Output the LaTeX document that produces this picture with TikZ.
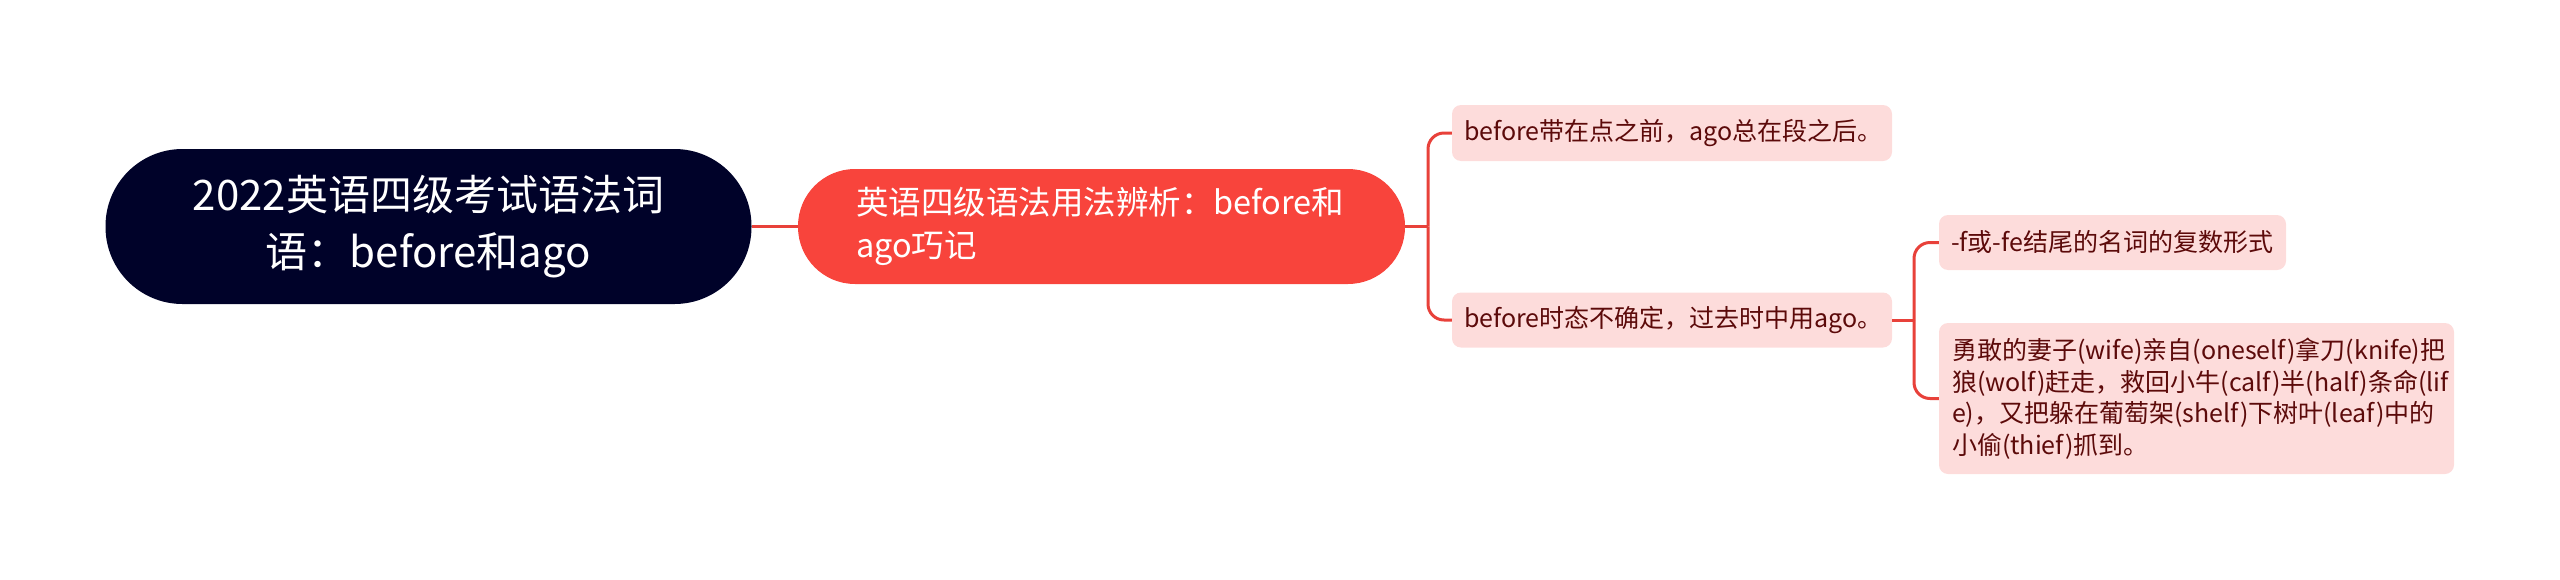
\documentclass[tikz,border=0pt]{standalone}
\usepackage{fontspec}
\setmainfont{Noto Sans CJK SC}
\definecolor{rootbg}{HTML}{000229}
\definecolor{mainbg}{HTML}{F8443C}
\definecolor{leafbg}{HTML}{FDDCDB}
\definecolor{leaftext}{HTML}{5C0A0A}
\definecolor{linec}{HTML}{E8413A}
\begin{document}
\begin{tikzpicture}[x=1pt,y=-1pt,
  rootnode/.style={fill=rootbg, text=white, inner sep=0pt, align=center,
    minimum width=646pt, minimum height=155pt, rounded corners=77pt,
    font=\fontsize{42}{57}\selectfont},
  mainnode/.style={fill=mainbg, text=white, inner xsep=58pt, inner ysep=0pt,
    text width=491pt, align=left, minimum height=115pt, rounded corners=57pt,
    font=\fontsize{32.5}{43}\selectfont},
  leaf/.style={fill=leafbg, text=leaftext, inner ysep=0pt, align=left,
    rounded corners=9pt, font=\fontsize{25}{31.5}\selectfont},
  conn/.style={draw=linec, line width=3pt}]
\useasboundingbox (0,0) rectangle (2560,579);
\node[rootnode] (root) at (428.5,226.5) {2022英语四级考试语法词\\语：before和ago};
\node[mainnode] (main) at (1101.5,226.5) {英语四级语法用法辨析：before和\\ago巧记};
\node[leaf, inner xsep=12pt, text width=416pt, minimum height=56pt] (c1) at (1672,133) {before带在点之前，ago总在段之后。};
\node[leaf, inner xsep=12pt, text width=416pt, minimum height=55pt] (c2) at (1672,320) {before时态不确定，过去时中用ago。};
\node[leaf, inner xsep=12pt, text width=323pt, minimum height=55pt] (c3) at (2112.5,242.5) {-f或-fe结尾的名词的复数形式};
\node[leaf, inner xsep=13pt, text width=489pt, minimum height=151pt] (c4) at (2196.5,398.5) {勇敢的妻子(wife)亲自(oneself)拿刀(knife)把\\狼(wolf)赶走，救回小牛(calf)半(half)条命(lif\\e)，又把躲在葡萄架(shelf)下树叶(leaf)中的\\小偷(thief)抓到。};
\coordinate (j1) at (1428,226.5);
\coordinate (j2) at (1914,320);
\draw[conn] (root.east) -- (main.west);
\draw[conn] (main.east) -- (j1);
\draw[conn, rounded corners=16pt] (j1) |- (c1.west);
\draw[conn, rounded corners=16pt] (j1) |- (c2.west);
\draw[conn] (c2.east) -- (j2);
\draw[conn, rounded corners=16pt] (j2) |- (c3.west);
\draw[conn, rounded corners=16pt] (j2) |- (c4.west);
\end{tikzpicture}
\end{document}
